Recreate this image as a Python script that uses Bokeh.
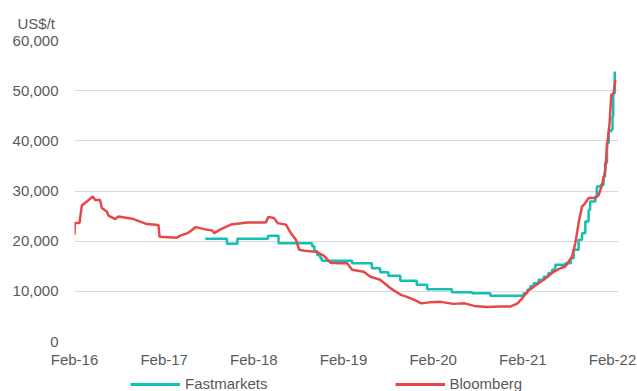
from bokeh.plotting import figure
from bokeh.layouts import column
from bokeh.models import FixedTicker, NumeralTickFormatter, Legend, LegendItem, Title
from bokeh.embed import file_html
from bokeh.resources import INLINE

# x values are months elapsed since Feb 2016
tick_months = [0, 12, 24, 36, 48, 60, 72]
tick_labels = ["Feb-16", "Feb-17", "Feb-18", "Feb-19", "Feb-20", "Feb-21", "Feb-22"]

# Bloomberg price, US$/t
bloomberg_m = [0.0, 0.05, 0.67, 0.75, 0.98, 1.65, 2.45, 2.76, 3.43, 3.65, 4.32, 4.55,
               5.43, 5.89, 7.9, 9.68, 11.24, 11.38, 13.7, 14.14, 15.13, 16.24, 17.35,
               18.47, 18.69, 19.59, 20.93, 23.16, 25.61, 25.92, 26.72, 27.18, 28.29,
               28.96, 29.63, 30.07, 30.74, 32.3, 33.35, 34.25, 35.36, 36.48, 37.15,
               38.7, 39.6, 40.9, 42.3, 43.7, 44.5, 45.5, 46.4, 47.5, 49.0, 50.7, 52.2,
               53.5, 55.2, 57.0, 58.4, 59.3, 59.9, 60.8, 61.45, 62.79, 64.12, 65.02,
               65.7, 66.58, 67.02, 67.46, 67.92, 68.36, 68.8, 69.7, 70.14, 70.6, 71.04,
               71.26, 71.61, 71.84, 72.15, 72.38]
bloomberg_v = [21300, 23600, 23600, 24600, 27100, 27900, 28900, 28200, 28200, 26600,
               25900, 25100, 24400, 24900, 24400, 23400, 23200, 20900, 20700, 21100,
               21600, 22800, 22400, 22100, 21600, 22400, 23300, 23700, 23700, 24800,
               24600, 23600, 23300, 21600, 20300, 18300, 18100, 17900, 17100, 15700,
               15600, 15600, 14300, 13900, 12900, 12300, 10600, 9300, 8900, 8300, 7600,
               7800, 7900, 7500, 7600, 7100, 6900, 7000, 7000, 7600, 8600, 10300,
               10900, 12300, 13900, 14600, 15000, 16900, 19600, 23600, 26900, 27600,
               28600, 28600, 29200, 31200, 34200, 38900, 43600, 49200, 49500, 52200]

# Fastmarkets assessment, US$/t (stepped series)
fast_m = [17.5, 20.4, 21.8, 25.9, 27.3, 31.8, 32.1, 32.5, 32.9, 33.1, 37.15, 39.8,
          40.9, 42.0, 43.6, 45.8, 47.2, 50.5, 53.2, 55.65, 60.1, 60.6, 61.0, 61.45,
          62.1, 62.8, 63.4, 63.9, 64.35, 65.7, 66.4, 66.8, 67.46, 67.92, 68.36, 68.8,
          69.0, 69.7, 69.9, 70.4, 70.8, 71.0, 71.26, 71.5, 71.8, 72.0, 72.1, 72.3]
fast_v = [20500, 19500, 20500, 21100, 19600, 19000, 18000, 17200, 16600, 16100, 15600,
          14600, 13800, 13100, 12100, 11300, 10400, 9800, 9600, 9100, 9600, 10300,
          11000, 11600, 12300, 12900, 13600, 14300, 15300, 15600, 16600, 18300, 20300,
          21600, 23900, 26200, 27900, 28900, 30900, 31200, 32900, 35600, 39600, 41900,
          42200, 44900, 49500, 53800]

TEAL = "#12C1B4"
RED = "#E8474A"
TEXT = "#595959"
FONT = "Liberation Sans"

# main chart
p = figure(width=637, height=375, output_backend="svg", toolbar_location=None,
           x_range=(0, 72.8), y_range=(0, 60000),
           min_border_left=74, min_border_right=19, min_border_top=40,
           min_border_bottom=34)
p.outline_line_color = None
p.background_fill_color = "white"
p.border_fill_color = "white"

title = Title(text="US$/t", align="left", offset=-57, standoff=18,
              text_font=FONT, text_font_size="15px", text_font_style="normal",
              text_color=TEXT)
p.add_layout(title, "above")

p.step(fast_m, fast_v, mode="after", line_color=TEAL, line_width=2.5)
p.line(bloomberg_m, bloomberg_v, line_color=RED, line_width=2.5)

p.xaxis.ticker = FixedTicker(ticks=tick_months)
p.xaxis.major_label_overrides = {m: lab for m, lab in zip(tick_months, tick_labels)}
p.yaxis.ticker = FixedTicker(ticks=[0, 10000, 20000, 30000, 40000, 50000, 60000])
p.yaxis.formatter = NumeralTickFormatter(format="0,0")

for ax in (p.xaxis, p.yaxis):
    ax.axis_line_color = None
    ax.major_tick_line_color = None
    ax.minor_tick_line_color = None
    ax.major_label_text_font = FONT
    ax.major_label_text_font_size = "15px"
    ax.major_label_text_color = TEXT
p.xaxis.major_label_standoff = 3
p.yaxis.major_label_standoff = 10

p.xgrid.grid_line_color = None
p.ygrid.grid_line_color = "#D9D9D9"
p.ygrid.grid_line_width = 1.2

# legend strip under the chart (its frame lines up with the chart frame)
lg = figure(width=637, height=16, output_backend="svg", toolbar_location=None,
            x_range=(0, 1), y_range=(0, 1), min_border=0)
lg.axis.visible = False
lg.grid.visible = False
lg.outline_line_color = None
fm_key = lg.line([-2, -1], [-2, -1], line_color=TEAL, line_width=3)
bb_key = lg.line([-2, -1], [-2, -1], line_color=RED, line_width=3)
legend = Legend(items=[LegendItem(label="Fastmarkets", renderers=[fm_key]),
                       LegendItem(label="Bloomberg", renderers=[bb_key])],
                location=(56, -1), orientation="horizontal",
                glyph_width=50, glyph_height=16, label_height=16,
                label_standoff=5, spacing=127,
                padding=0, margin=0,
                label_text_font=FONT, label_text_font_size="15px",
                label_text_color=TEXT,
                border_line_color=None, background_fill_alpha=0)
lg.add_layout(legend, "center")

open("out.html", "w").write(file_html(column(p, lg, spacing=0), INLINE))
